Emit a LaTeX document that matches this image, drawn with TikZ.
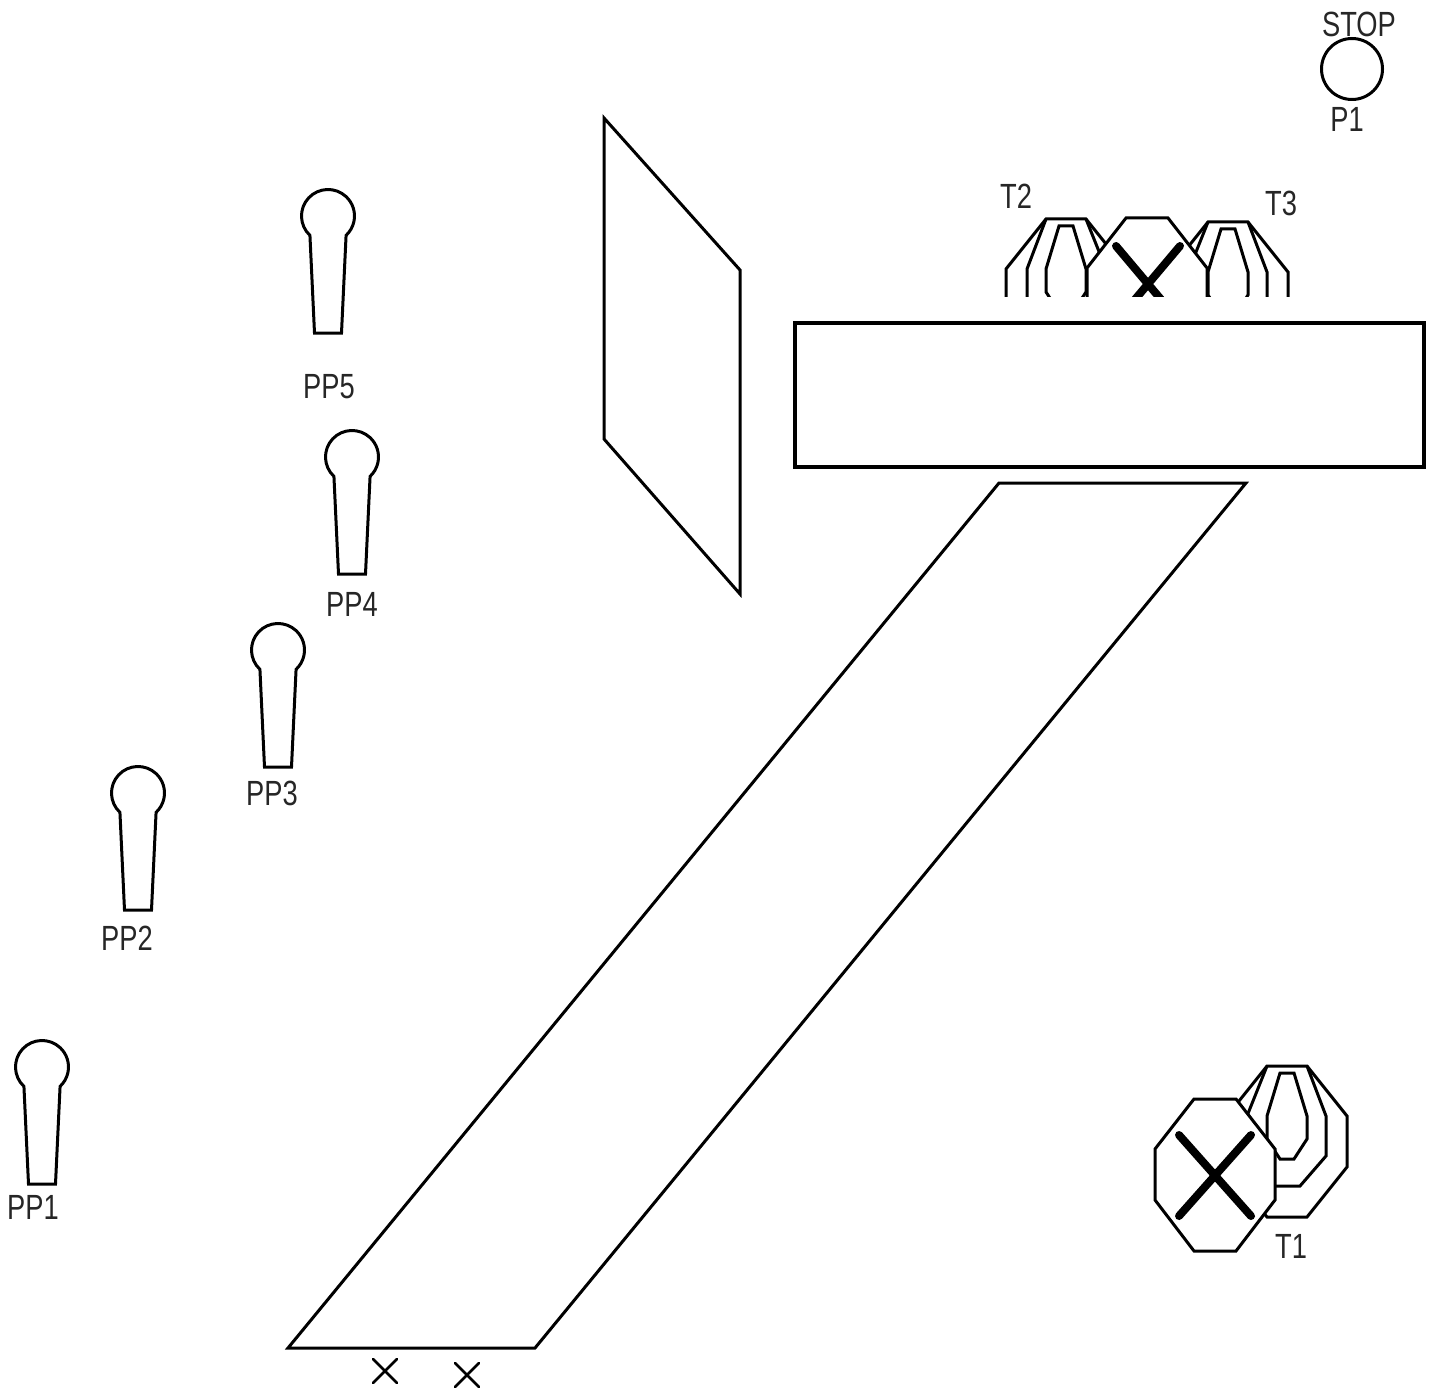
\documentclass[tikz,border=0pt]{standalone}
\usepackage{fontspec}
\setmainfont[FakeStretch=0.78]{Liberation Sans}
\tikzset{
  x=1pt,y=-1pt,
  ink/.style={draw=black,line width=3pt},
  heavy/.style={draw=black,line width=3.4pt},
  crossmark/.style={draw=black,line width=8pt,line cap=round},
  thincross/.style={draw=black,line width=2.6pt,line cap=round},
  lbl/.style={inner sep=0pt,font=\fontsize{35}{35}\selectfont,text=black!85},
  pin/.pic={
    \draw[ink] (-18.07,19.38) arc[start angle=227,end angle=-47,radius=26.5pt] -- (13.5,117) -- (-13.5,117) -- cycle;
  },
  targetback/.pic={
    \draw[ink] (0,0) -- (40,0) -- (80,50) -- (80,101) -- (40,151) -- (0,151) -- (-40,101) -- (-40,50) -- cycle;
    \draw[ink] (-20,50) -- (0,0) (40,0) -- (59,50) -- (59,90) -- (33,120) -- (0,120);
    \draw[ink] (13,7) -- (27,7) -- (40,50) -- (40,73) -- (27,93) -- (13,93) -- (0,73) -- (0,50) -- cycle;
  },
  frontoct/.pic={
    \draw[ink,fill=white] (39,0) -- (81,0) -- (120,50) -- (120,101) -- (81,152) -- (39,152) -- (0,101) -- (0,50) -- cycle;
  }
}
\begin{document}
\begin{tikzpicture}
\useasboundingbox (0,0) rectangle (1437,1388);
% pins
\pic at (42,1067) {pin};
\pic at (138,793) {pin};
\pic at (278,650) {pin};
\pic at (352,457) {pin};
\pic at (328,216) {pin};
% stop signal
\node[ink,circle,minimum size=61pt,inner sep=0pt] (p1) at (1352,69) {};
% screen, counter, lane
\draw[ink] (604,118) -- (740,270) -- (740,594) -- (604,439) -- cycle;
\node[heavy,rectangle,minimum width=629pt,minimum height=144pt,inner sep=0pt] (counter) at (1109.5,395) {};
\draw[ink] (999,483) -- (1246,483) -- (535,1348) -- (288,1348) -- cycle;
% crosses below lane
\draw[thincross] (373,1359) -- (397,1383) (397,1359) -- (373,1383);
\draw[thincross] (455,1363) -- (479,1387) (479,1363) -- (455,1387);
% T2 and T3, cut off at the counter
\begin{scope}
\clip (990,150) rectangle (1300,296);
\pic[xscale=-1] at (1086,219) {targetback};
\pic at (1208,222) {targetback};
\pic at (1087,218) {frontoct};
\draw[crossmark] (1116,246) -- (1180,322) (1180,246) -- (1116,322);
\end{scope}
% T1
\pic at (1267,1066) {targetback};
\pic at (1155,1099) {frontoct};
\draw[crossmark] (1179,1135) -- (1251,1216) (1251,1135) -- (1179,1216);
% labels
\node[lbl] (lstop) at (1359,24) {STOP};
\node[lbl] (lp1) at (1347,119) {P1};
\node[lbl] (lt2) at (1016,196) {T2};
\node[lbl] (lt3) at (1281,203) {T3};
\node[lbl] (lt1) at (1291,1246) {T1};
\node[lbl] (lpp5) at (329,387) {PP5};
\node[lbl] (lpp4) at (352,604) {PP4};
\node[lbl] (lpp3) at (272,793) {PP3};
\node[lbl] (lpp2) at (127,938) {PP2};
\node[lbl] (lpp1) at (33,1207) {PP1};
\end{tikzpicture}
\end{document}
